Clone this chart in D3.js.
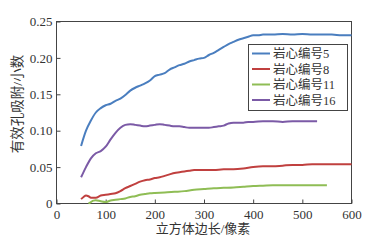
<!DOCTYPE html>
<html><head><meta charset="utf-8">
<script src="https://cdn.jsdelivr.net/npm/d3@7"></script>
<style>
body{margin:0;background:#fff;}
svg text{font-family:"Liberation Serif","Noto Sans CJK SC",serif;fill:#333;}
</style></head>
<body><svg id="c" width="383" height="240"></svg>
<script>
const xTicks=[0,100,200,300,400,500,600];
const yTicks=[0,0.05,0.10,0.15,0.20,0.25];
const yTickLabels=["0","0.05","0.10","0.15","0.20","0.25"];
const seriesNames=["岩心编号5","岩心编号8","岩心编号11","岩心编号16"];
const seriesColors=["#4a7ebf","#c0403f","#8fbd55","#7b5aa6"];
const xTitle="立方体边长/像素";
const yTitle="有效孔吸附/小数";

const x5=[50,60,70,80,90,100,110,120,130,140,150,160,170,180,190,200,210,220,230,240,250,260,270,280,290,300,310,320,330,340,350,360,370,380,390,400,410,420,440,460,480,500,520,540,560,580,600];
const y5=[0.079,0.100,0.114,0.125,0.131,0.135,0.137,0.141,0.144,0.149,0.155,0.159,0.162,0.165,0.169,0.175,0.177,0.179,0.184,0.187,0.190,0.192,0.195,0.197,0.199,0.200,0.204,0.207,0.211,0.215,0.219,0.222,0.225,0.227,0.229,0.231,0.231,0.232,0.232,0.233,0.232,0.233,0.232,0.232,0.232,0.231,0.231];

const x8=[50,55,60,65,70,80,90,100,110,120,130,140,150,160,170,180,190,200,210,220,230,240,250,260,270,280,300,320,340,360,380,400,420,440,460,480,500,520,550,600];
const y8=[0.006,0.009,0.011,0.010,0.008,0.008,0.011,0.012,0.013,0.014,0.017,0.021,0.024,0.027,0.030,0.032,0.033,0.035,0.036,0.038,0.040,0.042,0.043,0.044,0.045,0.046,0.046,0.046,0.047,0.047,0.048,0.050,0.051,0.051,0.052,0.053,0.053,0.054,0.054,0.054];

const x11=[65,70,75,80,90,100,110,120,130,140,150,160,170,180,190,200,220,240,260,280,300,320,340,360,380,400,420,440,460,480,500,520,550];
const y11=[0.000,0.002,0.004,0.0045,0.003,0.002,0.004,0.005,0.006,0.007,0.009,0.010,0.012,0.013,0.014,0.0145,0.015,0.016,0.017,0.019,0.020,0.021,0.0215,0.022,0.023,0.024,0.0245,0.025,0.025,0.025,0.025,0.025,0.025];

const x16=[50,60,70,80,90,100,110,120,130,140,150,160,170,180,190,200,210,220,230,240,250,260,270,280,290,300,310,320,330,340,350,360,370,380,390,400,420,440,460,480,500,520,530];
const y16=[0.036,0.050,0.062,0.069,0.072,0.078,0.088,0.097,0.104,0.108,0.109,0.108,0.107,0.106,0.107,0.108,0.109,0.108,0.107,0.106,0.106,0.105,0.104,0.104,0.104,0.104,0.104,0.105,0.106,0.107,0.110,0.111,0.111,0.111,0.112,0.112,0.113,0.113,0.112,0.113,0.113,0.113,0.113];

const seriesX=[x5,x8,x11,x16];
const seriesY=[y5,y8,y11,y16];

const svg=d3.select("#c");
const L=56.5,R=351.5,T=21.5,B=203.5;
const x=d3.scaleLinear().domain([0,600]).range([L,R]);
const y=d3.scaleLinear().domain([0,0.25]).range([B,T]);

svg.append("rect").attr("x",L).attr("y",T).attr("width",R-L).attr("height",B-T)
  .attr("fill","none").attr("stroke","#444").attr("stroke-width",1);

const xAxis=svg.append("g").attr("transform",`translate(0,${B})`)
  .call(d3.axisBottom(x).tickValues(xTicks).tickSizeInner(-4).tickSizeOuter(0).tickPadding(6).tickFormat(d3.format("d")));
xAxis.select(".domain").remove();
xAxis.selectAll("line").attr("stroke","#444");
xAxis.selectAll("text").attr("font-size","13px").attr("fill","#333").style("font-family","Liberation Serif");
const yAxis=svg.append("g").attr("transform",`translate(${L},0)`)
  .call(d3.axisLeft(y).tickValues(yTicks).tickSizeInner(-4).tickSizeOuter(0).tickPadding(4).tickFormat((d,i)=>yTickLabels[i]));
yAxis.select(".domain").remove();
yAxis.selectAll("line").attr("stroke","#444");
yAxis.selectAll("text").attr("font-size","13px").attr("fill","#333").style("font-family","Liberation Serif");

const line=d3.line().x(d=>x(d[0])).y(d=>y(d[1])).curve(d3.curveMonotoneX);
[3,2,1,0].forEach(i=>{
  const pts=seriesX[i].map((v,j)=>[v,seriesY[i][j]]);
  svg.append("path").datum(pts).attr("d",line).attr("fill","none")
    .attr("stroke",seriesColors[i]).attr("stroke-width",2).attr("stroke-linejoin","round");
});

const lg=svg.append("g");
lg.append("rect").attr("x",248.5).attr("y",44.5).attr("width",99).attr("height",66)
  .attr("fill","#fff").attr("stroke","#444").attr("stroke-width",1);
seriesNames.forEach((n,i)=>{
  const cy=53.5+i*15.5;
  lg.append("line").attr("x1",252).attr("x2",270).attr("y1",cy).attr("y2",cy)
    .attr("stroke",seriesColors[i]).attr("stroke-width",2);
  lg.append("text").attr("x",273).attr("y",cy).attr("dy","0.36em").attr("font-size","12.5px").text(n);
});

svg.append("text").attr("x",203).attr("y",233).attr("text-anchor","middle").attr("font-size","13px").text(xTitle);
svg.append("text").attr("transform",`translate(22,104) rotate(-90)`).attr("text-anchor","middle").attr("font-size","13.5px").text(yTitle);
</script></body></html>
